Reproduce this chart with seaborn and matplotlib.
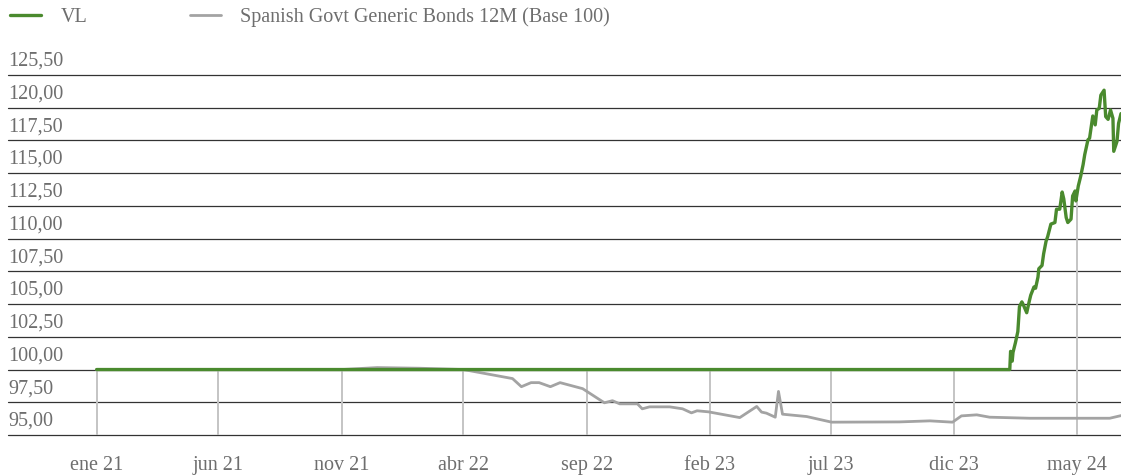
import numpy as np
import pandas as pd
import seaborn as sns
import matplotlib.pyplot as plt
import matplotlib.dates as mdates
import matplotlib.transforms as mtransforms

# series (dates, values)
bond_dates = ["2021-01-01", "2021-11-01", "2021-12-15", "2022-02-06", "2022-04-01",
              "2022-06-01", "2022-06-12", "2022-06-24", "2022-07-04", "2022-07-18",
              "2022-07-30", "2022-08-27", "2022-09-23", "2022-10-03", "2022-10-12",
              "2022-11-03", "2022-11-09", "2022-11-18", "2022-12-13", "2022-12-29",
              "2023-01-09", "2023-01-16", "2023-01-30", "2023-03-10", "2023-03-31",
              "2023-04-06", "2023-04-12", "2023-04-23", "2023-04-27", "2023-05-02",
              "2023-06-01", "2023-07-02", "2023-09-24", "2023-11-01", "2023-11-29",
              "2023-12-10", "2023-12-29", "2024-01-14", "2024-03-04", "2024-05-01",
              "2024-06-11", "2024-06-25"]
bond_values = [100.00, 100.00, 100.15, 100.10, 100.00,
               99.31, 98.69, 99.00, 99.00, 98.69,
               99.00, 98.54, 97.46, 97.62, 97.38,
               97.38, 97.00, 97.15, 97.15, 97.00,
               96.69, 96.85, 96.77, 96.33, 97.18,
               96.75, 96.67, 96.36, 98.33, 96.59,
               96.41, 95.98, 96.00, 96.08, 95.98,
               96.46, 96.54, 96.36, 96.28, 96.28,
               96.28, 96.48]

vl_dates = ["2021-01-01", "2024-02-08", "2024-02-09", "2024-02-11", "2024-02-12",
            "2024-02-15", "2024-02-18", "2024-02-20", "2024-02-23", "2024-02-25",
            "2024-02-29", "2024-03-03", "2024-03-05", "2024-03-09", "2024-03-11",
            "2024-03-14", "2024-03-15", "2024-03-19", "2024-03-21", "2024-03-24",
            "2024-03-26", "2024-03-30", "2024-04-04", "2024-04-06", "2024-04-10",
            "2024-04-13", "2024-04-15", "2024-04-18", "2024-04-20", "2024-04-24",
            "2024-04-26", "2024-04-29", "2024-04-30", "2024-05-03", "2024-05-06",
            "2024-05-09", "2024-05-11", "2024-05-15", "2024-05-17", "2024-05-21",
            "2024-05-24", "2024-05-26", "2024-05-29", "2024-05-31", "2024-06-04",
            "2024-06-06", "2024-06-09", "2024-06-12", "2024-06-15", "2024-06-16",
            "2024-06-20", "2024-06-22", "2024-06-25"]
vl_values = [100.00, 100.00, 101.39, 100.64, 101.31,
             102.05, 102.90, 104.80, 105.17, 104.92,
             104.34, 105.17, 105.68, 106.31, 106.21,
             107.07, 107.70, 107.95, 108.84, 109.80,
             110.15, 111.11, 111.23, 112.25, 112.25,
             113.56, 113.03, 111.61, 111.23, 111.49,
             113.26, 113.64, 112.88, 114.02, 114.77,
             115.66, 116.42, 117.55, 117.67, 119.37,
             118.69, 119.83, 119.95, 120.96, 121.34,
             119.32, 119.11, 119.83, 119.19, 116.67,
             117.42, 118.81, 119.55]

x_tick_dates = ["2021-01-01", "2021-06-01", "2021-11-01", "2022-04-01", "2022-09-01",
                "2023-02-01", "2023-07-01", "2023-12-01", "2024-05-01"]
x_tick_labels = ["ene 21", "jun 21", "nov 21", "abr 22", "sep 22",
                 "feb 23", "jul 23", "dic 23", "may 24"]
y_ticks = [95.0, 97.5, 100.0, 102.5, 105.0, 107.5, 110.0, 112.5, 115.0, 117.5, 120.0, 122.5]
y_tick_labels = ["95,00", "97,50", "100,00", "102,50", "105,00", "107,50", "110,00",
                 "112,50", "115,00", "117,50", "120,00", "125,50"]

vl_name = "VL"
bond_name = "Spanish Govt Generic Bonds 12M (Base 100)"

sns.set_theme(style="white")
plt.rcParams["font.family"] = ["Liberation Serif", "DejaVu Serif"]

green = "#4a8a2e"
grey = "#a3a3a3"
text_col = "#6e6e6e"
fsize = 14.5

bond = pd.DataFrame({"date": pd.to_datetime(bond_dates), "value": bond_values})
vl = pd.DataFrame({"date": pd.to_datetime(vl_dates), "value": vl_values})

fig = plt.figure(figsize=(11.21, 4.75), dpi=100)
ax = fig.add_axes([8 / 1121, 40 / 475, 1113 / 1121, 360 / 475])

# horizontal grid
for v in y_ticks:
    ax.axhline(v, color="#333333", lw=0.9, zorder=1, clip_on=False)

# vertical drop lines at each tick, up to the series level
tick_dt = pd.to_datetime(x_tick_dates)
tick_num = mdates.date2num(tick_dt)
top_vl = np.interp(tick_num, mdates.date2num(vl["date"]), vl["value"])
top_bond = np.interp(tick_num, mdates.date2num(bond["date"]), bond["value"])
ax.vlines(tick_dt, y_ticks[0], np.maximum(top_vl, top_bond), color="#c4c4c4", lw=1.4, zorder=1)

sns.lineplot(data=bond, x="date", y="value", color=grey, lw=2.0, ax=ax, zorder=3, label=bond_name)
sns.lineplot(data=vl, x="date", y="value", color=green, lw=2.4, ax=ax, zorder=4, label=vl_name)

ax.set_xlim(pd.Timestamp("2020-09-13"), vl["date"].iloc[-1])
ax.set_ylim(y_ticks[0], y_ticks[-1])
ax.set_xlabel("")
ax.set_ylabel("")
for s in ax.spines.values():
    s.set_visible(False)

ax.set_xticks(tick_dt)
ax.set_xticklabels(x_tick_labels)
ax.set_yticks(y_ticks)
ax.set_yticklabels(y_tick_labels)
ax.tick_params(axis="x", length=0, pad=15, labelsize=fsize, labelcolor=text_col)
ax.tick_params(axis="y", length=0, pad=0, labelsize=fsize, labelcolor=text_col)
shift = mtransforms.ScaledTranslation(0, 3 / 72, fig.dpi_scale_trans)
for lbl in ax.get_yticklabels():
    lbl.set_horizontalalignment("left")
    lbl.set_verticalalignment("bottom")
    lbl.set_transform(lbl.get_transform() + shift)

# legend: VL first
handles, labels = ax.get_legend_handles_labels()
order = [labels.index(vl_name), labels.index(bond_name)]
ax.legend_.remove()
fig.legend([handles[i] for i in order], [labels[i] for i in order],
           loc="upper left", bbox_to_anchor=(10 / 1121, 1 - 7 / 475), ncol=2, frameon=False,
           fontsize=fsize, labelcolor=text_col, handlelength=1.55, handletextpad=0.95,
           columnspacing=5.1, borderpad=0, borderaxespad=0)

fig.savefig("out.png", dpi=100)
